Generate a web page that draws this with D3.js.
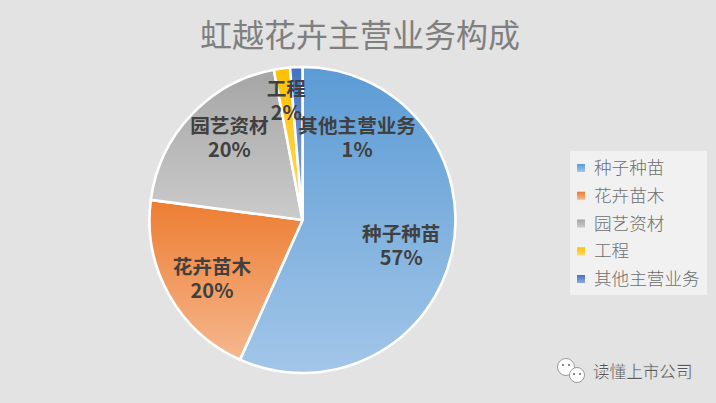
<!DOCTYPE html>
<html><head><meta charset="utf-8">
<script src="https://cdnjs.cloudflare.com/ajax/libs/d3/7.8.5/d3.min.js"></script>
<style>html,body{margin:0;padding:0;background:#e3e3e3}svg{display:block}text{font-family:"Noto Sans CJK SC","Noto Sans",sans-serif}</style>
</head><body><svg id="c" width="716" height="403"></svg>
<script>
const chartTitle = "虹越花卉主营业务构成";
const categories = ["种子种苗","花卉苗木","园艺资材","工程","其他主营业务"];
const shares = [56.7,20.4,19.9,1.7,1.3];
const shareLabels = ["57%","20%","20%","2%","1%"];
const colorsTop = ["#5b9bd5","#ed7d31","#a5a5a5","#ffc000","#4472c4"];
const colorsBottom = ["#a3c6e8","#f5b78e","#cbcbcb","#ffd966","#8faadc"];
const watermark = "读懂上市公司";

const W=716,H=403,cx=302.5,cy=220,R=153;
const svg=d3.select("#c");
const defs=svg.append("defs");
categories.forEach((c,i)=>{
  const g=defs.append("linearGradient").attr("id","g"+i).attr("x1",0).attr("y1",0).attr("x2",0).attr("y2",1);
  g.append("stop").attr("offset","0%").attr("stop-color",colorsTop[i]);
  g.append("stop").attr("offset","100%").attr("stop-color",colorsBottom[i]);
});
svg.append("rect").attr("width",W).attr("height",H).attr("fill","#e3e3e3");
svg.append("text").attr("x",360).attr("y",47).attr("text-anchor","middle").attr("font-size",32)
  .attr("font-weight",400).attr("fill","#7f7f7f").text(chartTitle);

const pie=d3.pie().sort(null)(shares);
const arc=d3.arc().innerRadius(0).outerRadius(R);
const root=svg.append("g").attr("transform",`translate(${cx},${cy})`);
root.selectAll("path").data(pie).join("path").attr("d",arc)
  .attr("fill",(d,i)=>`url(#g${i})`).attr("stroke","#fff").attr("stroke-width",2.6).attr("stroke-linejoin","round");

// label anchor: radial fraction of R, plus hand-placement nudge matching the original
const labelRadius=[0.66,0.7,0.72,0.79,0.7];
const nudge=[[0,4],[3,6],[7,-7],[0,0],[59,24]];
const lab=root.selectAll("g.l").data(pie).join("g").attr("class","l").attr("transform",(d,i)=>{
  const r=R*labelRadius[i];const a=d3.arc().innerRadius(r).outerRadius(r).centroid(d);
  return `translate(${a[0]+nudge[i][0]},${a[1]+nudge[i][1]})`;});
lab.append("text").attr("text-anchor","middle").attr("y",-4).attr("font-size",19.6).attr("font-weight",700).attr("fill","#404040").text((d,i)=>categories[i]);
lab.append("text").attr("text-anchor","middle").attr("y",20).attr("font-size",20).attr("font-weight",700).attr("fill","#404040").text((d,i)=>shareLabels[i]);

const lg=svg.append("g");
lg.append("rect").attr("x",570).attr("y",151).attr("width",137).attr("height",144).attr("fill","#f1f1f1");
const ly=d3.scalePoint().domain(categories).range([168,279]);
const row=lg.selectAll("g.r").data(categories).join("g").attr("class","r").attr("transform",d=>`translate(577,${ly(d)})`);
row.append("rect").attr("y",-4).attr("width",8).attr("height",8).attr("fill",(d,i)=>`url(#g${i})`);
row.append("text").attr("x",17).attr("y",6).attr("font-size",17.6).attr("font-weight",300).attr("fill","#6e6e6e").text(d=>d);

const wm=svg.append("g");
[[566,367,8.5,1],[577,375,7.5,1]].forEach(c=>wm.append("circle").attr("cx",c[0]).attr("cy",c[1]).attr("r",c[2]).attr("fill","#fff").attr("stroke","#777").attr("stroke-width",0.7));
[[563,365],[569,365],[574,374],[580,374]].forEach(e=>wm.append("circle").attr("cx",e[0]).attr("cy",e[1]).attr("r",0.9).attr("fill","#555"));
wm.append("text").attr("x",593).attr("y",378).attr("font-size",16.6).attr("fill","#555").attr("stroke","#fff").attr("stroke-width",0.25).text(watermark);
</script></body></html>
